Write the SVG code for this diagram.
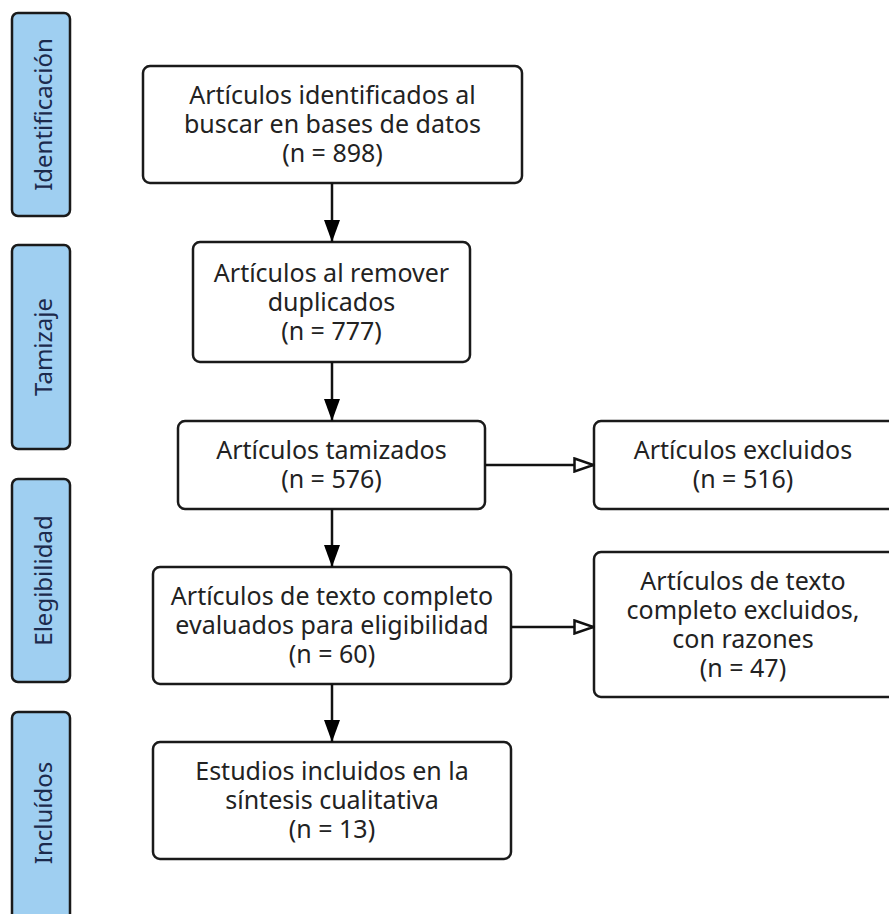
<svg xmlns="http://www.w3.org/2000/svg" width="889" height="914" viewBox="0 0 889 914">
<style>
.bg{fill:#ffffff}
.box{fill:#ffffff;stroke:#1a1a1a;stroke-width:2.5}
.side{fill:#9fcff1;stroke:#1a1a1a;stroke-width:2.5}
.t{font-family:"Noto Sans","Open Sans",sans-serif;font-size:25px;fill:#222222;text-anchor:middle}
.st{font-family:"Noto Sans","Open Sans",sans-serif;font-size:24px;fill:#1c2a4c;text-anchor:middle}
.ln{stroke:#111111;stroke-width:2.5;fill:none}
</style>
<defs>
<marker id="fill" markerWidth="22" markerHeight="16" refX="22" refY="8" orient="auto" markerUnits="userSpaceOnUse" viewBox="0 0 22 16">
<path d="M0,0 L22,8 L0,16 Z" fill="#000000"/>
</marker>
<marker id="hollow" markerWidth="22" markerHeight="16" refX="21" refY="8" orient="auto" markerUnits="userSpaceOnUse" viewBox="0 0 22 16">
<path d="M1.5,1.5 L20.5,8 L1.5,14.5 Z" fill="#ffffff" stroke="#111111" stroke-width="2.5"/>
</marker>
</defs>
<rect class="bg" x="0" y="0" width="889" height="914"/>

<g id="side-identificacion">
<rect class="side" x="12" y="13" width="58" height="203" rx="6"/>
<text class="st" transform="translate(52,114.5) rotate(-90)">Identificación</text>
</g>
<g id="side-tamizaje">
<rect class="side" x="12" y="245" width="58" height="204" rx="6"/>
<text class="st" transform="translate(52,347) rotate(-90)">Tamizaje</text>
</g>
<g id="side-elegibilidad">
<rect class="side" x="12" y="479" width="58" height="203" rx="6"/>
<text class="st" transform="translate(52,580.5) rotate(-90)">Elegibilidad</text>
</g>
<g id="side-incluidos">
<rect class="side" x="12" y="712" width="58" height="210" rx="6"/>
<text class="st" transform="translate(52,813) rotate(-90)">Incluídos</text>
</g>

<g id="n1">
<rect class="box" x="143" y="66" width="379" height="117" rx="7"/>
<text class="t"><tspan x="332.5" y="104">Artículos identificados al</tspan><tspan x="332.5" y="133">buscar en bases de datos</tspan><tspan x="332.5" y="162">(n = 898)</tspan></text>
</g>
<g id="n2">
<rect class="box" x="193" y="242" width="277" height="120" rx="7"/>
<text class="t"><tspan x="331.5" y="281.5">Artículos al remover</tspan><tspan x="331.5" y="310.5">duplicados</tspan><tspan x="331.5" y="339.5">(n = 777)</tspan></text>
</g>
<g id="n3">
<rect class="box" x="178" y="421" width="307" height="88" rx="7"/>
<text class="t"><tspan x="331.5" y="459">Artículos tamizados</tspan><tspan x="331.5" y="488">(n = 576)</tspan></text>
</g>
<g id="n4">
<rect class="box" x="594" y="421" width="310" height="88" rx="7"/>
<text class="t"><tspan x="743" y="459">Artículos excluidos</tspan><tspan x="743" y="488">(n = 516)</tspan></text>
</g>
<g id="n5">
<rect class="box" x="153" y="567" width="358" height="117" rx="7"/>
<text class="t"><tspan x="332" y="605">Artículos de texto completo</tspan><tspan x="332" y="634">evaluados para eligibilidad</tspan><tspan x="332" y="663">(n = 60)</tspan></text>
</g>
<g id="n6">
<rect class="box" x="594" y="552" width="310" height="145" rx="7"/>
<text class="t"><tspan x="743" y="589.5">Artículos de texto</tspan><tspan x="743" y="618.5">completo excluidos,</tspan><tspan x="743" y="647.5">con razones</tspan><tspan x="743" y="676.5">(n = 47)</tspan></text>
</g>
<g id="n7">
<rect class="box" x="153" y="742" width="358" height="117" rx="7"/>
<text class="t"><tspan x="332" y="780">Estudios incluidos en la</tspan><tspan x="332" y="809">síntesis cualitativa</tspan><tspan x="332" y="838">(n = 13)</tspan></text>
</g>

<g id="connectors">
<line class="ln" x1="332" y1="183" x2="332" y2="242" marker-end="url(#fill)"/>
<line class="ln" x1="332" y1="362" x2="332" y2="421" marker-end="url(#fill)"/>
<line class="ln" x1="332" y1="509" x2="332" y2="567" marker-end="url(#fill)"/>
<line class="ln" x1="332" y1="684" x2="332" y2="742" marker-end="url(#fill)"/>
<line class="ln" x1="485" y1="465" x2="594" y2="465" marker-end="url(#hollow)"/>
<line class="ln" x1="511" y1="627" x2="594" y2="627" marker-end="url(#hollow)"/>
</g>
</svg>
